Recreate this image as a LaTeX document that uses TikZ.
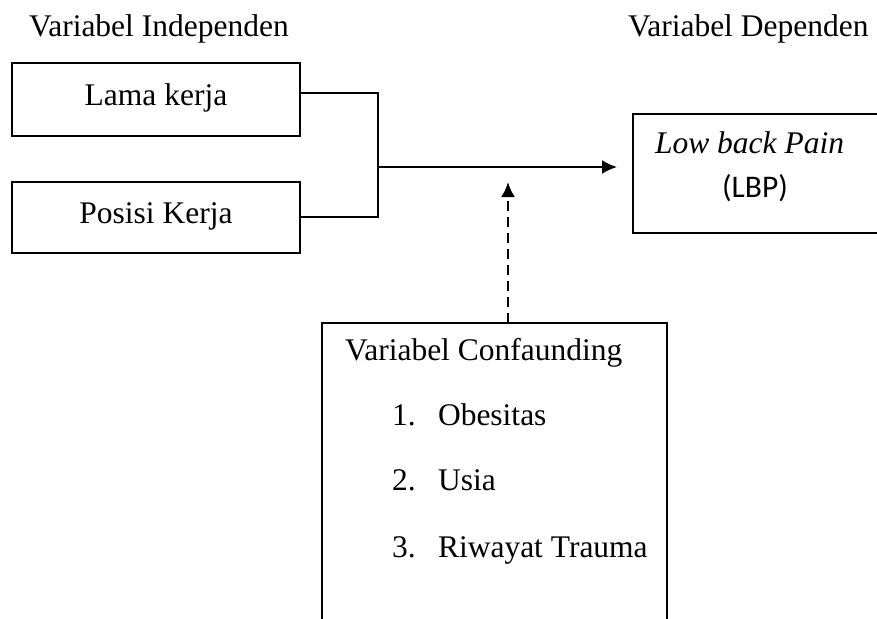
\documentclass[tikz,border=0pt]{standalone}
\usepackage{fontspec}
\setmainfont{Liberation Serif}
\newfontfamily\calibrifont{Carlito}
\usetikzlibrary{arrows.meta}
\begin{document}
\begin{tikzpicture}[x=1pt,y=-1pt,
  txt/.style={inner sep=0pt, outer sep=0pt, anchor=base west, font=\fontsize{31.5}{38}\selectfont},
  boxnode/.style={draw, line width=2pt, rectangle, inner sep=0pt, outer sep=0pt, anchor=north west},
  conn/.style={line width=2pt},
  dashconn/.style={line width=2.5pt, dash pattern=on 10pt off 6pt},
  tip/.style={-{Latex[length=15pt,width=14pt]}}]
\useasboundingbox (0,0) rectangle (877,618);
\clip (0,0) rectangle (877,618);

% headings
\node[txt] (hind) at (29,37) {Variabel Independen};
\node[txt] (hdep) at (628,37) {Variabel Dependen};

% boxes
\node[boxnode, minimum width=288pt, minimum height=73pt] (lama) at (12,63) {};
\node[boxnode, minimum width=288pt, minimum height=71pt] (posisi) at (12,182) {};
\node[boxnode, minimum width=260pt, minimum height=119pt] (lbp) at (633,114) {};
\node[boxnode, minimum width=345pt, minimum height=340pt] (conf) at (322,323) {};

% box texts
\node[txt, anchor=base] (lamatxt) at (156,105) {Lama kerja};
\node[txt, anchor=base] (posisitxt) at (156,223) {Posisi Kerja};
\node[txt] (lbptxt1) at (655,153) {\itshape Low back Pain};
\node[txt, anchor=base] (lbptxt2) at (755,197) {\calibrifont (LBP)};
\node[txt] (conftxt) at (345,360) {Variabel Confaunding};
\node[txt] (n1) at (392,425) {1.};
\node[txt] (i1) at (438,425) {Obesitas};
\node[txt] (n2) at (392,490) {2.};
\node[txt] (i2) at (438,490) {Usia};
\node[txt] (n3) at (392,557) {3.};
\node[txt] (i3) at (438,557) {Riwayat Trauma};

% connectors
\coordinate (jt) at (378,93);
\coordinate (jb) at (378,217);
\coordinate (jm) at (378,167);
\coordinate (tipa) at (617,167);
\coordinate (tipb) at (508,182);
\draw[conn] (jt -| lama.east) -- (jt) -- (jb) -- (jb -| posisi.east);
\draw[conn, tip] (jm) -- (tipa);
\draw[dashconn, tip] (tipb |- conf.north) -- (tipb);
\end{tikzpicture}
\end{document}
